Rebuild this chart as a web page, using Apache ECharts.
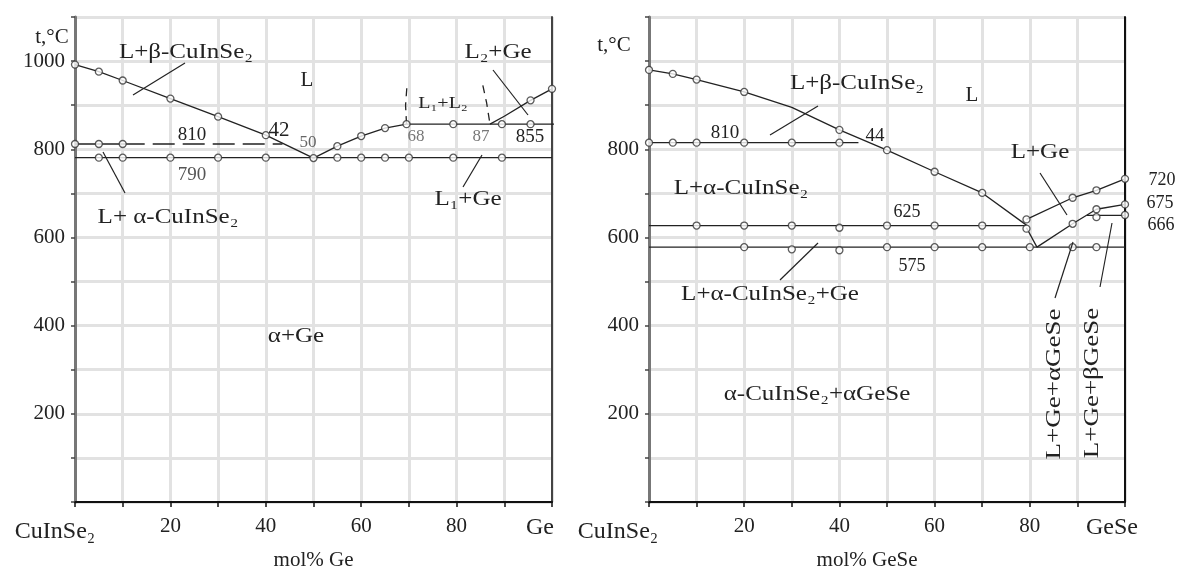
<!DOCTYPE html>
<html>
<head>
<meta charset="utf-8">
<script src="https://cdn.jsdelivr.net/npm/echarts@6/dist/echarts.min.js"></script>
<style>html,body{margin:0;padding:0;background:#fff}#c{width:1184px;height:576px}</style>
</head>
<body>
<div id="c"></div>
<script>
// ---------- tick labels ----------
const xTickValues = [0, 20, 40, 60, 80, 100];
const xTickLabelsL = ['CuInSe₂', '20', '40', '60', '80', 'Ge'];
const xTickLabelsR = ['CuInSe₂', '20', '40', '60', '80', 'GeSe'];
const yTickLabelsL = [200, 400, 600, 800, 1000];
const yTickLabelsR = [200, 400, 600, 800];

// ---------- left diagram: CuInSe2 – Ge ----------
const L_liqA = [[0, 992], [5, 976], [10, 956], [20, 915], [30, 874], [40, 832], [50, 780]];
const L_liqB = [[50, 780], [55, 807], [60, 830], [65, 848], [69.5, 857]];
const L_mono = [[69.5, 857], [102.5, 857]];
const L_liqGe = [[87, 857], [90, 875], [95.5, 911], [100, 937]];
const L_domeA = [[69.5, 857], [69.3, 900], [69.6, 945]];
const L_domeB = [[85.5, 945], [86.3, 905], [87, 857]];
const L_e810solid = [[0, 812], [10, 812]];
const L_e810dash = [[10, 812], [43.5, 812]];
const L_e790 = [[0, 781], [100, 781]];
const L_pts = [[0, 992], [5, 976], [10, 956], [20, 915], [30, 874], [40, 832], [50, 780],
  [55, 807], [60, 830], [65, 848], [69.5, 857], [79.3, 857], [89.5, 857], [95.5, 857],
  [95.5, 911], [100, 937],
  [0, 812], [5, 812], [10, 812],
  [5, 781], [10, 781], [20, 781], [30, 781], [40, 781], [55, 781], [60, 781], [65, 781],
  [70, 781], [79.3, 781], [89.5, 781]];

// ---------- right diagram: CuInSe2 – GeSe ----------
const R_liqA = [[0, 980], [5, 971], [10, 958], [20, 930], [30, 895], [40, 844], [50, 798], [60, 749], [70, 701], [79.3, 628]];
const R_liqGe = [[79.3, 641], [89, 690], [94, 707], [100, 733]];
const R_lower = [[79.3, 622], [81.5, 578], [89, 631], [94, 664], [100, 675]];
const R_e666 = [[92, 650], [100, 650]];
const R_e810 = [[0, 815], [44, 815]];
const R_e625 = [[0, 627], [79.3, 627]];
const R_e575 = [[0, 578], [100, 578]];
const R_pts = [[0, 980], [5, 971], [10, 958], [20, 930], [40, 844], [50, 798], [60, 749], [70, 701],
  [79.3, 641], [79.3, 620], [89, 690], [94, 707], [100, 733], [89, 631], [94, 664], [100, 675],
  [94, 646], [100, 651],
  [0, 815], [5, 815], [10, 815], [20, 815], [30, 815], [40, 815],
  [10, 627], [20, 627], [30, 627], [40, 622], [50, 627], [60, 627], [70, 627],
  [20, 578], [30, 573], [40, 571], [50, 578], [60, 578], [70, 578], [80, 578], [89, 578], [94, 578]];

const FONT = 'Liberation Serif';
const INK = '#222';

function xAxisCfg(gi, labels, name, endPad, startPad, namePad) {
  return {
    type: 'value', gridIndex: gi, min: 0, max: 100, interval: 10,
    name: name, nameLocation: 'middle', nameGap: 48,
    nameTextStyle: { fontFamily: FONT, fontSize: 21, color: INK, padding: [0, namePad, 0, 0] },
    axisLine: { lineStyle: { color: '#111', width: 2 } },
    axisTick: { show: true, length: 5, lineStyle: { color: '#111', width: 1.5 } },
    splitLine: { show: true, lineStyle: { color: '#e2e2e2', width: 3 } },
    axisLabel: {
      margin: 14, fontFamily: FONT, fontSize: 21, color: INK,
      formatter: function (v) {
        const i = xTickValues.indexOf(v);
        if (i < 0) return '';
        if (i === 0) return '{s|' + labels[0] + '}';
        if (i === xTickValues.length - 1) return '{e|' + labels[i] + '}';
        return labels[i];
      },
      rich: {
        s: { fontFamily: FONT, fontSize: 24, color: INK, padding: [4, startPad, 0, 0] },
        e: { fontFamily: FONT, fontSize: 24, color: INK, padding: [0, endPad, 0, 0] }
      }
    }
  };
}
function yAxisCfg(gi, labels, color) {
  return {
    type: 'value', gridIndex: gi, min: 0, max: 1100, interval: 100,
    axisLine: { show: true, lineStyle: { color: color, width: 3 } },
    axisTick: { show: true, length: 4, lineStyle: { color: '#444', width: 1.5 } },
    splitLine: { show: true, lineStyle: { color: '#e2e2e2', width: 3 } },
    axisLabel: {
      margin: 10, fontFamily: FONT, fontSize: 21, color: INK,
      formatter: function (v) { return labels.indexOf(v) >= 0 ? String(v) : ''; }
    }
  };
}
function borderAxis(gi, color) {
  return {
    type: 'value', gridIndex: gi, min: 0, max: 1100, position: 'right',
    axisLine: { show: true, lineStyle: { color: color, width: 2 } },
    axisTick: { show: false }, axisLabel: { show: false }, splitLine: { show: false }
  };
}
function lineS(xi, yi, data, dash) {
  return {
    type: 'line', xAxisIndex: xi, yAxisIndex: yi, data: data, showSymbol: false, clip: false,
    lineStyle: { color: INK, width: 1.3, type: dash || 'solid' }, silent: true, z: 3
  };
}
function ptsS(xi, yi, data) {
  return {
    type: 'scatter', xAxisIndex: xi, yAxisIndex: yi, data: data, symbol: 'circle', symbolSize: 7,
    itemStyle: { color: '#fff', borderColor: '#333', borderWidth: 1.3 }, silent: true, z: 4
  };
}
function txt(x, y, s, size, color, sx, rot) {
  return {
    type: 'text', x: x, y: y, rotation: rot || 0, scaleX: sx || 1, z: 10,
    style: { text: s, font: (size || 19) + 'px "' + FONT + '"', fill: color || INK, align: 'center', verticalAlign: 'middle' }
  };
}
function ln(x1, y1, x2, y2) {
  return { type: 'line', z: 10, shape: { x1: x1, y1: y1, x2: x2, y2: y2 }, style: { stroke: INK, lineWidth: 1.2 } };
}
const W = 1.25; // horizontal stretch of the reference lettering

const chart = echarts.init(document.getElementById('c'), null, { renderer: 'canvas' });
chart.setOption({
  animation: false,
  backgroundColor: '#fff',
  grid: [
    { left: 75, top: 17, width: 477, height: 491 },
    { left: 649, top: 17, width: 476, height: 493 }
  ],
  xAxis: [
    xAxisCfg(0, xTickLabelsL, 'mol% Ge', 24, 40, 0),
    xAxisCfg(1, xTickLabelsR, 'mol% GeSe', 26, 62, 40)
  ],
  yAxis: [
    yAxisCfg(0, yTickLabelsL, '#777'),
    yAxisCfg(1, yTickLabelsR, '#777'),
    borderAxis(0, '#444'),
    borderAxis(1, '#111')
  ],
  series: [
    lineS(0, 0, L_liqA), lineS(0, 0, L_liqB), lineS(0, 0, L_mono), lineS(0, 0, L_liqGe),
    lineS(0, 0, L_domeA, [8, 6]), lineS(0, 0, L_domeB, [8, 6]),
    lineS(0, 0, L_e810solid), lineS(0, 0, L_e810dash, [22, 8]), lineS(0, 0, L_e790),
    ptsS(0, 0, L_pts),
    lineS(1, 1, R_liqA), lineS(1, 1, R_liqGe), lineS(1, 1, R_lower), lineS(1, 1, R_e666),
    lineS(1, 1, R_e810), lineS(1, 1, R_e625), lineS(1, 1, R_e575),
    ptsS(1, 1, R_pts)
  ],
  graphic: [
    // left diagram texts
    txt(52, 37, 't,°C', 21),
    txt(186, 53, 'L+β-CuInSe₂', 20, INK, W),
    txt(307, 80, 'L', 21),
    txt(443, 104, 'L₁+L₂', 16, INK, W),
    txt(498, 53, 'L₂+Ge', 20, INK, W),
    txt(192, 135, '810', 19),
    txt(279, 130, '42', 21),
    txt(308, 143, '50', 17, '#666'),
    txt(416, 137, '68', 17, '#777'),
    txt(481, 137, '87', 17, '#777'),
    txt(530, 137, '855', 19),
    txt(192, 175, '790', 19, '#555'),
    txt(168, 218, 'L+ α-CuInSe₂', 20, INK, W),
    txt(468, 200, 'L₁+Ge', 20, INK, W),
    txt(296, 337, 'α+Ge', 20, INK, W),
    ln(185, 63, 133, 95), ln(103, 152, 125, 193), ln(493, 70, 528, 115), ln(482, 155, 463, 187),
    // right diagram texts
    txt(614, 45, 't,°C', 21),
    txt(857, 84, 'L+β-CuInSe₂', 20, INK, W),
    txt(972, 95, 'L', 21),
    txt(725, 133, '810', 19),
    txt(875, 136, '44', 19),
    txt(741, 189, 'L+α-CuInSe₂', 20, INK, W),
    txt(1040, 153, 'L+Ge', 20, INK, W),
    txt(1162, 180, '720', 18),
    txt(1160, 203, '675', 18),
    txt(1161, 225, '666', 18),
    txt(907, 212, '625', 18),
    txt(912, 266, '575', 18),
    txt(770, 295, 'L+α-CuInSe₂+Ge', 20, INK, W),
    txt(817, 395, 'α-CuInSe₂+αGeSe', 20, INK, W),
    txt(1055, 384, 'L+Ge+αGeSe', 20, INK, 1.35, Math.PI / 2),
    txt(1093, 383, 'L+Ge+βGeSe', 20, INK, 1.35, Math.PI / 2),
    ln(818, 106, 770, 135), ln(1040, 173, 1067, 215), ln(780, 280, 818, 243),
    ln(1055, 298, 1073, 242), ln(1100, 287, 1112, 223)
  ]
});
</script>
</body>
</html>
